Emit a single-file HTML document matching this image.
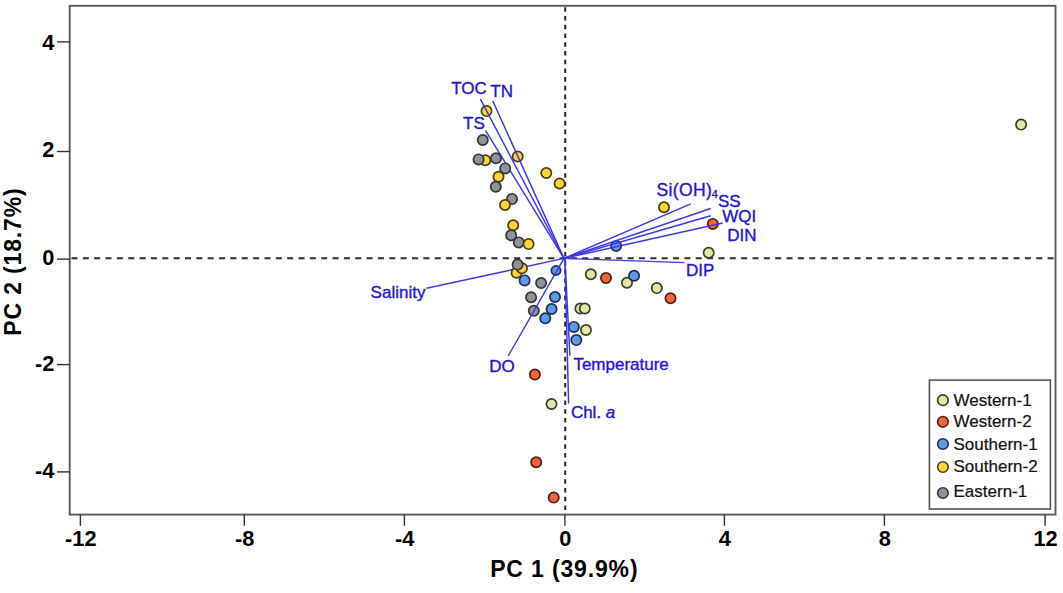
<!DOCTYPE html>
<html><head><meta charset="utf-8"><style>
html,body{margin:0;padding:0;background:#fff;width:1063px;height:593px;overflow:hidden}
svg{display:block}
text{font-family:"Liberation Sans",sans-serif}
.tk{font-size:21.8px;font-weight:bold;fill:#000}
.ax{font-size:23px;font-weight:bold;fill:#000;letter-spacing:0.85px}
.lb{font-size:17px;fill:#2214d8;stroke:#2214d8;stroke-width:0.35px}
.lg{font-size:17px;fill:#111;stroke:#111;stroke-width:0.2px}
</style></head><body>
<svg width="1063" height="593" viewBox="0 0 1063 593">
<line x1="71.5" y1="258.2" x2="1054.5" y2="258.2" stroke="#2e2e2e" stroke-width="2.1" stroke-dasharray="6 5.35"/>
<line x1="565.2" y1="7.2" x2="565.2" y2="513.6" stroke="#2e2e2e" stroke-width="2.1" stroke-dasharray="4.6 4.14"/>
<line x1="564.0" y1="258.4" x2="485.5" y2="130.4" stroke="#3d36e6" stroke-width="1.45"/>
<line x1="564.0" y1="258.4" x2="426.5" y2="288.3" stroke="#3d36e6" stroke-width="1.45"/>
<circle cx="486.5" cy="111.1" r="5.15" fill="#fbd634" stroke="#4a3d10" stroke-width="1.7"/>
<circle cx="485.3" cy="160.3" r="5.15" fill="#fbd634" stroke="#4a3d10" stroke-width="1.7"/>
<circle cx="482.8" cy="140.0" r="5.15" fill="#8d9399" stroke="#333639" stroke-width="1.7"/>
<circle cx="478.6" cy="159.4" r="5.15" fill="#8d9399" stroke="#333639" stroke-width="1.7"/>
<circle cx="496.0" cy="158.2" r="5.15" fill="#8d9399" stroke="#333639" stroke-width="1.7"/>
<circle cx="517.7" cy="156.5" r="5.15" fill="#fbd634" stroke="#4a3d10" stroke-width="1.7"/>
<circle cx="505.2" cy="168.4" r="5.15" fill="#8d9399" stroke="#333639" stroke-width="1.7"/>
<circle cx="498.5" cy="176.8" r="5.15" fill="#fbd634" stroke="#4a3d10" stroke-width="1.7"/>
<circle cx="495.8" cy="186.8" r="5.15" fill="#8d9399" stroke="#333639" stroke-width="1.7"/>
<circle cx="512.0" cy="198.9" r="5.15" fill="#8d9399" stroke="#333639" stroke-width="1.7"/>
<circle cx="505.0" cy="205.0" r="5.15" fill="#fbd634" stroke="#4a3d10" stroke-width="1.7"/>
<circle cx="546.3" cy="173.0" r="5.15" fill="#fbd634" stroke="#4a3d10" stroke-width="1.7"/>
<circle cx="559.6" cy="183.5" r="5.15" fill="#fbd634" stroke="#4a3d10" stroke-width="1.7"/>
<circle cx="513.2" cy="225.2" r="5.15" fill="#fbd634" stroke="#4a3d10" stroke-width="1.7"/>
<circle cx="511.2" cy="235.3" r="5.15" fill="#8d9399" stroke="#333639" stroke-width="1.7"/>
<circle cx="518.8" cy="242.4" r="5.15" fill="#8d9399" stroke="#333639" stroke-width="1.7"/>
<circle cx="528.6" cy="244.1" r="5.15" fill="#fbd634" stroke="#4a3d10" stroke-width="1.7"/>
<circle cx="516.6" cy="272.8" r="5.15" fill="#fbd634" stroke="#4a3d10" stroke-width="1.7"/>
<circle cx="522.0" cy="268.3" r="5.15" fill="#fbd634" stroke="#4a3d10" stroke-width="1.7"/>
<circle cx="517.6" cy="264.6" r="5.15" fill="#8d9399" stroke="#333639" stroke-width="1.7"/>
<circle cx="524.6" cy="280.4" r="5.15" fill="#5e9ae8" stroke="#1d2d55" stroke-width="1.7"/>
<circle cx="556.0" cy="270.5" r="4.6" fill="#5e9ae8" stroke="#1d2d55" stroke-width="1.7"/>
<circle cx="541.1" cy="283.0" r="5.15" fill="#8d9399" stroke="#333639" stroke-width="1.7"/>
<circle cx="531.1" cy="297.2" r="5.15" fill="#8d9399" stroke="#333639" stroke-width="1.7"/>
<circle cx="555.0" cy="297.0" r="5.15" fill="#5e9ae8" stroke="#1d2d55" stroke-width="1.7"/>
<circle cx="533.8" cy="310.7" r="5.15" fill="#8d9399" stroke="#333639" stroke-width="1.7"/>
<circle cx="551.6" cy="309.0" r="5.15" fill="#5e9ae8" stroke="#1d2d55" stroke-width="1.7"/>
<circle cx="545.3" cy="318.3" r="5.15" fill="#5e9ae8" stroke="#1d2d55" stroke-width="1.7"/>
<circle cx="573.9" cy="326.9" r="5.15" fill="#5e9ae8" stroke="#1d2d55" stroke-width="1.7"/>
<circle cx="576.3" cy="340.1" r="5.15" fill="#5e9ae8" stroke="#1d2d55" stroke-width="1.7"/>
<circle cx="586.0" cy="330.0" r="5.15" fill="#dde9a6" stroke="#3a3d22" stroke-width="1.7"/>
<circle cx="580.4" cy="308.5" r="5.15" fill="#dde9a6" stroke="#3a3d22" stroke-width="1.7"/>
<circle cx="584.8" cy="308.5" r="5.15" fill="#dde9a6" stroke="#3a3d22" stroke-width="1.7"/>
<circle cx="590.8" cy="274.2" r="5.15" fill="#dde9a6" stroke="#3a3d22" stroke-width="1.7"/>
<circle cx="606.0" cy="278.0" r="5.15" fill="#f7643a" stroke="#4a2013" stroke-width="1.7"/>
<circle cx="627.0" cy="282.8" r="5.15" fill="#dde9a6" stroke="#3a3d22" stroke-width="1.7"/>
<circle cx="634.1" cy="275.7" r="5.15" fill="#5e9ae8" stroke="#1d2d55" stroke-width="1.7"/>
<circle cx="656.8" cy="288.1" r="5.15" fill="#dde9a6" stroke="#3a3d22" stroke-width="1.7"/>
<circle cx="670.5" cy="298.2" r="5.15" fill="#f7643a" stroke="#4a2013" stroke-width="1.7"/>
<circle cx="616.1" cy="245.9" r="5.15" fill="#5e9ae8" stroke="#1d2d55" stroke-width="1.7"/>
<circle cx="664.0" cy="207.3" r="5.15" fill="#fbd634" stroke="#4a3d10" stroke-width="1.7"/>
<circle cx="712.8" cy="223.9" r="5.15" fill="#f7643a" stroke="#4a2013" stroke-width="1.7"/>
<circle cx="708.7" cy="252.7" r="5.15" fill="#dde9a6" stroke="#3a3d22" stroke-width="1.7"/>
<circle cx="1021.1" cy="124.6" r="5.15" fill="#dde9a6" stroke="#3a3d22" stroke-width="1.7"/>
<circle cx="534.9" cy="374.6" r="5.15" fill="#f7643a" stroke="#4a2013" stroke-width="1.7"/>
<circle cx="551.5" cy="404.0" r="5.15" fill="#dde9a6" stroke="#3a3d22" stroke-width="1.7"/>
<circle cx="536.2" cy="462.2" r="5.15" fill="#f7643a" stroke="#4a2013" stroke-width="1.7"/>
<circle cx="553.7" cy="497.6" r="5.15" fill="#f7643a" stroke="#4a2013" stroke-width="1.7"/>
<line x1="564.0" y1="258.4" x2="480.4" y2="99.1" stroke="#3d36e6" stroke-width="1.45"/>
<line x1="564.0" y1="258.4" x2="492.7" y2="100.8" stroke="#3d36e6" stroke-width="1.45"/>
<line x1="564.0" y1="258.4" x2="690.7" y2="203.8" stroke="#3d36e6" stroke-width="1.45"/>
<line x1="564.0" y1="258.4" x2="710.7" y2="208.5" stroke="#3d36e6" stroke-width="1.45"/>
<line x1="564.0" y1="258.4" x2="710.7" y2="215.7" stroke="#3d36e6" stroke-width="1.45"/>
<line x1="564.0" y1="258.4" x2="722.7" y2="223.0" stroke="#3d36e6" stroke-width="1.45"/>
<line x1="564.0" y1="258.4" x2="684.2" y2="262.6" stroke="#3d36e6" stroke-width="1.45"/>
<line x1="564.0" y1="258.4" x2="508.2" y2="356.0" stroke="#3d36e6" stroke-width="1.45"/>
<line x1="564.9" y1="258.4" x2="569.9" y2="355.8" stroke="#3d36e6" stroke-width="1.45"/>
<line x1="564.9" y1="258.4" x2="568.6" y2="403.5" stroke="#3d36e6" stroke-width="1.45"/>
<text x="451.2" y="94.2" class="lb">TOC</text>
<text x="490.3" y="97.0" class="lb">TN</text>
<text x="463.0" y="129.1" class="lb">TS</text>
<text x="717.9" y="206.6" class="lb">SS</text>
<text x="722.3" y="222.4" class="lb">WQI</text>
<text x="727.3" y="241.4" class="lb">DIN</text>
<text x="685.9" y="276.2" class="lb">DIP</text>
<text x="370.6" y="298.2" class="lb">Salinity</text>
<text x="489.2" y="371.8" class="lb">DO</text>
<text x="573.4" y="369.9" class="lb">Temperature</text>
<text x="656.4" y="195.9" class="lb" style="font-size:17.6px;letter-spacing:0.35px">Si(OH)</text>
<text x="711.8" y="197.8" class="lb" style="font-size:11px">4</text>
<text x="570.9" y="417.9" class="lb">Chl. <tspan font-style="italic">a</tspan></text>
<rect x="69.7" y="5.8" width="985.8" height="508.8" fill="none" stroke="#5a5a5a" stroke-width="1.9"/>
<line x1="80.4" y1="514.6" x2="80.4" y2="525.8" stroke="#333" stroke-width="1.4"/>
<text x="80.8" y="546.3" class="tk" text-anchor="middle">-12</text>
<line x1="244.3" y1="514.6" x2="244.3" y2="525.8" stroke="#333" stroke-width="1.4"/>
<text x="244.7" y="546.3" class="tk" text-anchor="middle">-8</text>
<line x1="404.4" y1="514.6" x2="404.4" y2="525.8" stroke="#333" stroke-width="1.4"/>
<text x="404.8" y="546.3" class="tk" text-anchor="middle">-4</text>
<line x1="564.9" y1="514.6" x2="564.9" y2="525.8" stroke="#333" stroke-width="1.4"/>
<text x="565.3" y="546.3" class="tk" text-anchor="middle">0</text>
<line x1="724.4" y1="514.6" x2="724.4" y2="525.8" stroke="#333" stroke-width="1.4"/>
<text x="724.8" y="546.3" class="tk" text-anchor="middle">4</text>
<line x1="884.4" y1="514.6" x2="884.4" y2="525.8" stroke="#333" stroke-width="1.4"/>
<text x="884.8" y="546.3" class="tk" text-anchor="middle">8</text>
<line x1="1045.1" y1="514.6" x2="1045.1" y2="525.8" stroke="#333" stroke-width="1.4"/>
<text x="1045.5" y="546.3" class="tk" text-anchor="middle">12</text>
<line x1="57" y1="41.9" x2="69.7" y2="41.9" stroke="#333" stroke-width="1.4"/>
<text x="54.4" y="49.7" class="tk" text-anchor="end">4</text>
<line x1="57" y1="151.5" x2="69.7" y2="151.5" stroke="#333" stroke-width="1.4"/>
<text x="54.4" y="157.4" class="tk" text-anchor="end">2</text>
<line x1="57" y1="259.1" x2="69.7" y2="259.1" stroke="#333" stroke-width="1.4"/>
<text x="54.4" y="265.4" class="tk" text-anchor="end">0</text>
<line x1="57" y1="364.6" x2="69.7" y2="364.6" stroke="#333" stroke-width="1.4"/>
<text x="54.4" y="371.2" class="tk" text-anchor="end">-2</text>
<line x1="57" y1="471.9" x2="69.7" y2="471.9" stroke="#333" stroke-width="1.4"/>
<text x="54.4" y="478.2" class="tk" text-anchor="end">-4</text>
<text x="564.3" y="576.8" class="ax" text-anchor="middle">PC 1 (39.9%)</text>
<text transform="translate(21.2 261.6) rotate(-90)" class="ax" text-anchor="middle">PC 2 (18.7%)</text>
<rect x="929.4" y="380.1" width="121" height="128.9" fill="#fff" stroke="#555" stroke-width="1.6"/>
<circle cx="942.9" cy="400.2" r="5.3" fill="#dde9a6" stroke="#3a3d22" stroke-width="1.6"/>
<text x="953.5" y="405.5" class="lg">Western-1</text>
<circle cx="942.9" cy="421.8" r="5.3" fill="#f7643a" stroke="#4a2013" stroke-width="1.6"/>
<text x="953.5" y="427.3" class="lg">Western-2</text>
<circle cx="942.9" cy="444.0" r="5.3" fill="#5e9ae8" stroke="#1d2d55" stroke-width="1.6"/>
<text x="953.5" y="449.6" class="lg">Southern-1</text>
<circle cx="942.9" cy="467.0" r="5.3" fill="#fbd634" stroke="#4a3d10" stroke-width="1.6"/>
<text x="953.5" y="472.4" class="lg">Southern-2</text>
<circle cx="942.9" cy="493.0" r="5.3" fill="#8d9399" stroke="#333639" stroke-width="1.6"/>
<text x="953.5" y="497.3" class="lg">Eastern-1</text>
</svg>
</body></html>
